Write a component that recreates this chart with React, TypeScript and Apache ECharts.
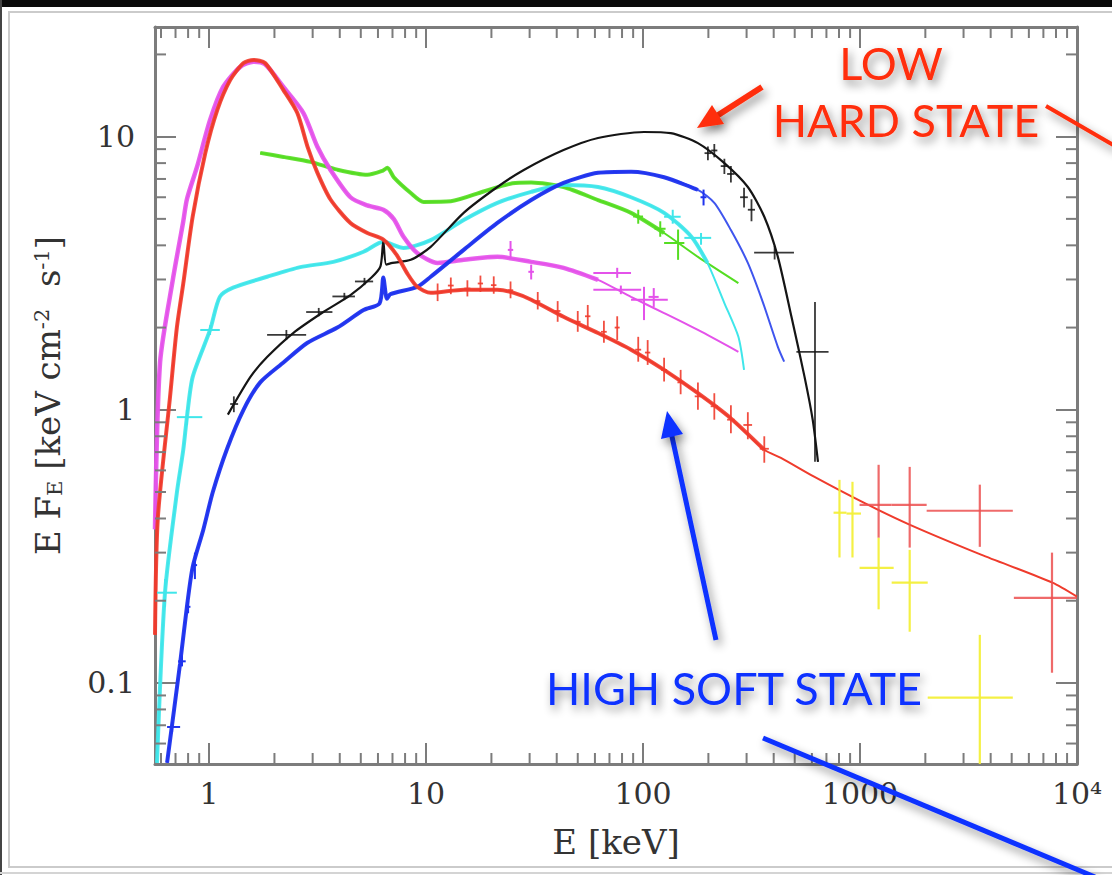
import React, { useEffect, useRef } from 'react';
import * as echarts from 'echarts';

// ---- axis ranges and ticks ----
const X_MIN = 0.563;
const X_MAX = 10000;
const Y_MIN = 0.0505;
const Y_MAX = 25.2;
const X_TICKS = [1, 10, 100, 1000, 10000];
const X_TICK_LABELS = ['1', '10', '100', '1000', '10⁴'];
const Y_TICKS = [0.1, 1, 10];
const Y_TICK_LABELS = ['0.1', '1', '10'];
const X_MINOR_TICKS = [0.6, 0.7, 0.8, 0.9, 2, 3, 4, 5, 6, 7, 8, 9, 20, 30, 40, 50, 60, 70, 80, 90,
  200, 300, 400, 500, 600, 700, 800, 900, 2000, 3000, 4000, 5000, 6000, 7000, 8000, 9000];
const Y_MINOR_TICKS = [0.06, 0.07, 0.08, 0.09, 0.2, 0.3, 0.4, 0.5, 0.6, 0.7, 0.8, 0.9,
  2, 3, 4, 5, 6, 7, 8, 9, 20];

// ---- model curves [E keV, E F_E] ----
const RED_MODEL = [[0.563, 0.15], [0.58, 0.4], [0.66, 1.11], [0.71, 2.0], [0.76, 2.9], [0.84, 5.1],
  [0.96, 8.7], [1.09, 12.5], [1.25, 16.1], [1.44, 18.6], [1.6, 19.1], [1.81, 18.6], [2.2, 14.8], [2.55, 12.2],
  [2.84, 9.2], [3.15, 7.4], [3.62, 5.9], [4.48, 4.83], [5.36, 4.44], [6.35, 4.2], [7.3, 3.7], [8.2, 3.15],
  [9.1, 2.82], [10.5, 2.68], [14.9, 2.75], [21.3, 2.75], [25.4, 2.68], [30.5, 2.53], [43, 2.19], [62, 1.91],
  [88, 1.66], [125, 1.4], [179, 1.15], [254, 0.93], [362, 0.714], [432, 0.667], [614, 0.569], [1040, 0.457],
  [1690, 0.38], [3610, 0.295], [7700, 0.233], [10000, 0.207]];
const MAGENTA_MODEL = [[0.563, 0.365], [0.594, 1.49], [0.68, 2.99], [0.76, 4.9], [0.79, 5.9], [0.88, 7.76],
  [1.01, 11.5], [1.16, 15.2], [1.39, 18.0], [1.6, 18.8], [1.81, 18.4], [2.2, 15.2], [2.72, 12.2], [3.15, 9.2],
  [3.62, 7.57], [4.48, 6.0], [5.36, 5.6], [6.35, 5.4], [7.1, 4.99], [7.87, 4.3], [9.1, 3.75], [11.3, 3.45],
  [14.9, 3.54], [21.3, 3.63], [30.5, 3.48], [43, 3.31], [62, 2.99], [88, 2.59], [125, 2.26], [179, 1.96],
  [275, 1.63]];
const GREEN_MODEL = [[1.72, 8.72], [2.2, 8.43], [2.93, 8.085], [3.9, 7.57], [5.36, 7.25], [6.3, 7.5], [6.63, 7.69],
  [7.1, 7.1], [8.5, 6.22], [9.74, 5.77], [13, 5.8], [18.4, 6.3], [25, 6.75], [30.5, 6.8], [43, 6.54], [62, 5.86],
  [88, 5.26], [125, 4.44], [179, 3.63], [275, 2.91]];
const CYAN_MODEL = [[0.575, 0.051], [0.626, 0.214], [0.71, 0.497], [0.76, 0.714], [0.79, 0.94], [0.84, 1.32],
  [1.01, 1.96], [1.12, 2.59], [1.29, 2.8], [1.85, 3.07], [2.63, 3.33], [3.74, 3.48], [5.15, 3.79], [6.35, 4.12],
  [7.87, 3.91], [10.5, 4.18], [14.9, 4.95], [21.3, 5.72], [30.5, 6.28], [43, 6.65], [62, 6.54], [88, 6.0],
  [125, 5.26], [167, 4.3], [198, 3.45], [237, 2.46], [275, 1.85], [292, 1.4]];
const BLUE_MODEL = [[0.64, 0.051], [0.735, 0.118], [0.79, 0.19], [0.84, 0.266], [0.94, 0.364], [1.04, 0.5],
  [1.21, 0.72], [1.44, 1.0], [1.72, 1.26], [2.2, 1.49], [2.84, 1.76], [3.9, 2.0], [5.15, 2.32], [6.1, 2.45],
  [6.35, 3.05], [6.6, 2.55], [6.85, 2.65], [9.1, 2.82], [10.5, 3.07], [14.9, 3.85], [21.3, 4.83], [30.5, 5.86],
  [43, 6.77], [62, 7.37], [88, 7.44], [125, 7.1], [179, 6.38], [213, 5.72], [254, 4.55], [304, 3.45],
  [355, 2.5], [418, 1.7], [447, 1.5]];
const BLACK_MODEL = [[1.22, 0.96], [1.55, 1.32], [1.85, 1.56], [2.44, 1.91], [3.36, 2.28], [4.48, 2.63],
  [5.6, 3.05], [6.16, 3.35], [6.35, 4.15], [6.55, 3.4], [7.0, 3.45], [8.5, 3.54], [10.5, 3.95], [14.9, 5.26],
  [21.3, 6.54], [28.2, 7.55], [43, 8.93], [62, 9.89], [101, 10.4], [134, 10.3], [179, 9.47], [237, 8.0],
  [304, 6.54], [362, 5.09], [418, 3.63], [483, 2.19], [555, 1.32], [605, 0.92], [640, 0.645]];

// ---- data points with error bars [E, F, Elo, Ehi, Flo, Fhi] ----
const RED_POINTS = [[11.3, 2.68, 11.0, 11.6, 2.5, 2.9], [13, 2.85, 12.6, 13.4, 2.65, 3.05],
  [15.5, 2.78, 15.0, 16.0, 2.6, 2.98], [17.8, 2.9, 17.3, 18.3, 2.7, 3.1], [20.5, 2.86, 19.9, 21.1, 2.66, 3.08],
  [24.5, 2.74, 23.8, 25.2, 2.56, 2.95], [32.7, 2.5, 31.8, 33.6, 2.33, 2.7], [40.4, 2.3, 39.2, 41.6, 2.1, 2.5],
  [50, 2.1, 48.5, 51.5, 1.93, 2.3], [55.6, 2.2, 54, 57.2, 2.0, 2.42], [66, 1.93, 64, 68, 1.76, 2.12],
  [76, 2.0, 74, 78, 1.8, 2.2], [95, 1.66, 92, 98, 1.5, 1.85], [105, 1.62, 102, 108, 1.46, 1.8],
  [125, 1.4, 121, 129, 1.27, 1.55], [149, 1.26, 144, 154, 1.14, 1.4], [179, 1.12, 173, 185, 1.0, 1.26],
  [213, 1.03, 205, 221, 0.92, 1.15], [254, 0.92, 244, 264, 0.82, 1.04], [304, 0.88, 290, 318, 0.78, 0.98],
  [362, 0.72, 345, 380, 0.64, 0.8]];
const RED_HIGH_POINTS = [[1218, 0.449, 995, 1399, 0.34, 0.629], [1694, 0.449, 1399, 2028, 0.313, 0.618],
  [3565, 0.427, 2028, 5060, 0.315, 0.532], [7670, 0.205, 5117, 10000, 0.109, 0.3]];
const YELLOW_POINTS = [[804, 0.42, 755, 866, 0.288, 0.554], [923, 0.417, 866, 1010, 0.288, 0.545],
  [1218, 0.264, 995, 1429, 0.186, 0.34], [1694, 0.233, 1399, 2051, 0.154, 0.307],
  [3565, 0.0883, 2051, 5060, 0.0505, 0.15]];
const BLACK_POINTS = [[1.3, 1.05, 1.25, 1.36, 0.98, 1.12], [2.27, 1.88, 1.85, 2.8, 1.8, 1.96],
  [3.2, 2.28, 2.8, 3.7, 2.2, 2.36], [4.2, 2.6, 3.7, 4.7, 2.52, 2.68], [5.2, 2.95, 4.7, 5.7, 2.86, 3.04],
  [199, 8.7, 192, 206, 8.2, 9.2], [213, 8.9, 206, 220, 8.4, 9.4], [237, 7.8, 228, 246, 7.3, 8.3],
  [254, 7.3, 244, 264, 6.8, 7.8], [292, 6.0, 280, 304, 5.5, 6.5], [316, 5.4, 304, 328, 4.9, 5.9],
  [404, 3.76, 325, 496, 3.55, 3.98], [620, 1.63, 509, 716, 0.645, 2.48]];
const CYAN_POINTS = [[0.626, 0.214, 0.575, 0.71, 0.19, 0.24], [0.79, 0.94, 0.71, 0.93, 0.88, 1.0],
  [1.01, 1.96, 0.91, 1.12, 1.88, 2.04], [137, 5.09, 125, 149, 4.8, 5.4], [185, 4.26, 155, 206, 4.02, 4.44]];
const GREEN_POINTS = [[95, 5.1, 90, 100, 4.8, 5.4], [120, 4.6, 113, 127, 4.3, 4.9],
  [145, 4.08, 125, 155, 3.54, 4.57]];
const MAGENTA_POINTS = [[24.5, 3.85, 23.8, 25.2, 3.6, 4.15], [30.5, 3.2, 29.6, 31.4, 3.0, 3.4],
  [76, 3.17, 59, 88, 3.04, 3.31], [79, 2.75, 59, 98, 2.65, 2.85], [101, 2.53, 88, 130, 2.13, 2.82],
  [112, 2.59, 106, 118, 2.38, 2.79]];
const BLUE_POINTS = [[0.675, 0.069, 0.64, 0.735, 0.066, 0.072], [0.75, 0.12, 0.72, 0.78, 0.115, 0.126],
  [0.8, 0.19, 0.78, 0.82, 0.18, 0.2], [0.86, 0.27, 0.84, 0.88, 0.24, 0.3], [190, 6.0, 184, 196, 5.6, 6.4]];

// upper energy of the dense data band drawn over each model
const RED_DATA_MAX = 420;
const MAGENTA_DATA_MAX = 85;
const GREEN_DATA_MAX = 150;
const CYAN_DATA_MAX = 200;
const BLUE_DATA_MAX = 200;

const RED = '#ef3b2c';
const MAGENTA = '#e452ea';
const GREEN = '#55dd22';
const CYAN = '#3fe6ea';
const BLUE = '#1f33ee';
const BLACK = '#151515';
const YELLOW = '#f3ef3a';
const AXIS_GRAY = '#7c7c7c';
const SERIF = 'DejaVu Serif';

function fmt(ticks: number[], labels: string[]) {
  return (v: number) => {
    for (let i = 0; i < ticks.length; i++) {
      if (Math.abs(Math.log10(v) - Math.log10(ticks[i])) < 1e-4) return labels[i];
    }
    return '';
  };
}

function crossSeries(points: number[][], color: string, width: number, opacity = 1) {
  return {
    type: 'custom',
    coordinateSystem: 'cartesian2d',
    silent: true,
    clip: true,
    z: 4,
    data: points,
    encode: { x: 0, y: 1 },
    renderItem: (params: any, api: any) => {
      const E = api.value(0), F = api.value(1);
      const a = api.coord([api.value(2), F]);
      const b = api.coord([api.value(3), F]);
      const c = api.coord([E, api.value(4)]);
      const d = api.coord([E, api.value(5)]);
      const style = { stroke: color, lineWidth: width, opacity };
      return {
        type: 'group',
        children: [
          { type: 'line', shape: { x1: a[0], y1: a[1], x2: b[0], y2: b[1] }, style },
          { type: 'line', shape: { x1: c[0], y1: c[1], x2: d[0], y2: d[1] }, style },
        ],
      };
    },
  };
}

function modelSeries(model: number[][], color: string, width: number, opacity = 1, z = 3) {
  return {
    type: 'line',
    data: model,
    showSymbol: false,
    symbol: 'none',
    smooth: 0.25,
    silent: true,
    z,
    lineStyle: { color, width, opacity },
  };
}

function minorTickSeries(values: number[], axis: 'x' | 'y') {
  return {
    type: 'custom',
    coordinateSystem: 'cartesian2d',
    silent: true,
    z: 10,
    data: values.map((v) => (axis === 'x' ? [v, 1] : [1, v])),
    encode: { x: 0, y: 1 },
    renderItem: (params: any, api: any) => {
      const cs = params.coordSys;
      const p = api.coord([api.value(0), api.value(1)]);
      const style = { stroke: AXIS_GRAY, lineWidth: 2 };
      const L = 11;
      if (axis === 'x') {
        return {
          type: 'group',
          children: [
            { type: 'line', shape: { x1: p[0], y1: cs.y + cs.height, x2: p[0], y2: cs.y + cs.height - L }, style },
            { type: 'line', shape: { x1: p[0], y1: cs.y, x2: p[0], y2: cs.y + L }, style },
          ],
        };
      }
      return {
        type: 'group',
        children: [
          { type: 'line', shape: { x1: cs.x, y1: p[1], x2: cs.x + L, y2: p[1] }, style },
          { type: 'line', shape: { x1: cs.x + cs.width, y1: p[1], x2: cs.x + cs.width - L, y2: p[1] }, style },
        ],
      };
    },
  };
}

const shadow = { shadowBlur: 10, shadowColor: 'rgba(0,0,0,0.45)', shadowOffsetX: 3, shadowOffsetY: 5 };
const textShadow = { textShadowBlur: 10, textShadowColor: 'rgba(0,0,0,0.45)', textShadowOffsetX: 3, textShadowOffsetY: 5 };

export default function App() {
  const ref = useRef<HTMLDivElement>(null);
  useEffect(() => {
    if (!ref.current) return;
    const chart = echarts.init(ref.current, undefined, { renderer: 'svg' });
    const axisCommon = {
      type: 'log',
      logBase: 10,
      splitLine: { show: false },
      axisLine: { show: true, onZero: false, lineStyle: { color: AXIS_GRAY, width: 3 } },
      axisTick: { show: true, inside: true, length: 21, lineStyle: { color: AXIS_GRAY, width: 2 } },
    };
    const band = (m: number[][], max: number) => m.filter((p) => p[0] <= max);
    const option: any = {
      animation: false,
      backgroundColor: '#ffffff',
      grid: { left: 155, top: 27, right: 35, bottom: 111, containLabel: false, outerBoundsMode: 'none' },
      xAxis: [
        {
          ...axisCommon, min: X_MIN, max: X_MAX, position: 'bottom',
          axisLabel: { formatter: fmt(X_TICKS, X_TICK_LABELS), fontFamily: SERIF, fontSize: 30, color: '#333', margin: 14, showMinLabel: false },
          name: 'E [keV]', nameLocation: 'middle', nameGap: 61,
          nameTextStyle: { fontFamily: SERIF, fontSize: 34, color: '#333' },
        },
        { ...axisCommon, min: X_MIN, max: X_MAX, position: 'top', axisLabel: { show: false } },
      ],
      yAxis: [
        {
          ...axisCommon, min: Y_MIN, max: Y_MAX, position: 'left',
          axisLabel: { formatter: fmt(Y_TICKS, Y_TICK_LABELS), fontFamily: SERIF, fontSize: 30, color: '#333', margin: 20, showMinLabel: false, showMaxLabel: false },
          name: '{a|E F}{sub|E}{a| [keV cm}{sup|-2}{a|  s}{sup|-1}{a|]}',
          nameLocation: 'middle', nameGap: 90,
          nameTextStyle: {
            fontFamily: SERIF, fontSize: 34, color: '#333',
            rich: {
              a: { fontFamily: SERIF, fontSize: 34, color: '#333' },
              sub: { fontFamily: SERIF, fontSize: 21, color: '#333', verticalAlign: 'bottom' },
              sup: { fontFamily: SERIF, fontSize: 21, color: '#333', verticalAlign: 'top' },
            },
          },
        },
        { ...axisCommon, min: Y_MIN, max: Y_MAX, position: 'right', axisLabel: { show: false } },
      ],
      series: [
        minorTickSeries(X_MINOR_TICKS, 'x'),
        minorTickSeries(Y_MINOR_TICKS, 'y'),
        // green
        modelSeries(GREEN_MODEL, GREEN, 2),
        modelSeries(band(GREEN_MODEL, GREEN_DATA_MAX), GREEN, 4, 0.9),
        crossSeries(GREEN_POINTS, GREEN, 2),
        // cyan
        modelSeries(CYAN_MODEL, CYAN, 2),
        modelSeries(band(CYAN_MODEL, CYAN_DATA_MAX), CYAN, 4, 0.9),
        crossSeries(CYAN_POINTS, CYAN, 2),
        // magenta
        modelSeries(MAGENTA_MODEL, MAGENTA, 2),
        modelSeries(band(MAGENTA_MODEL, MAGENTA_DATA_MAX), MAGENTA, 4.5, 0.9),
        crossSeries(MAGENTA_POINTS, MAGENTA, 2),
        // blue
        modelSeries(BLUE_MODEL, '#3f55ee', 2),
        modelSeries(band(BLUE_MODEL, BLUE_DATA_MAX), BLUE, 4, 0.95),
        crossSeries(BLUE_POINTS, BLUE, 2),
        // black
        modelSeries(BLACK_MODEL, BLACK, 2.2),
        crossSeries(BLACK_POINTS, BLACK, 1.8, 0.85),
        // red
        modelSeries(RED_MODEL, RED, 2),
        modelSeries(band(RED_MODEL, RED_DATA_MAX), RED, 4, 0.9),
        crossSeries(RED_POINTS, RED, 1.8, 0.9),
        crossSeries(RED_HIGH_POINTS, '#ec5050', 2.2, 0.85),
        // yellow
        crossSeries(YELLOW_POINTS, YELLOW, 2.2, 0.95),
      ],
      graphic: [
        { type: 'rect', z: 50, shape: { x: 0, y: 0, width: 1112, height: 7 }, style: { fill: '#0a0a0a' } },
        { type: 'rect', z: 50, shape: { x: 0, y: 0, width: 2, height: 875 }, style: { fill: '#444' } },
        { type: 'rect', z: 50, shape: { x: 9, y: 12, width: 1112, height: 855 }, style: { fill: 'none', stroke: '#cbcbcb', lineWidth: 2 } },
        { type: 'line', z: 50, shape: { x1: 0, y1: 873, x2: 1112, y2: 873 }, style: { stroke: '#d4d4d4', lineWidth: 2 } },
        // LOW HARD STATE
        { type: 'text', z: 100, style: { text: 'LOW', x: 891, y: 63, align: 'center', verticalAlign: 'middle', fill: '#ff2d0a', font: '45px Lato', ...textShadow } },
        { type: 'text', z: 100, style: { text: 'HARD STATE', x: 906, y: 120, align: 'center', verticalAlign: 'middle', fill: '#ff2d0a', font: '45px Lato', ...textShadow } },
        { type: 'line', z: 100, shape: { x1: 762, y1: 87, x2: 712, y2: 119 }, style: { stroke: '#ff2d0a', lineWidth: 6, ...shadow } },
        { type: 'polygon', z: 100, shape: { points: [[697, 128], [712, 105], [724, 124]] }, style: { fill: '#ff2d0a', ...shadow } },
        { type: 'line', z: 100, shape: { x1: 1046, y1: 106, x2: 1115, y2: 146 }, style: { stroke: '#ff2d0a', lineWidth: 4, ...shadow } },
        // HIGH SOFT STATE
        { type: 'text', z: 100, style: { text: 'HIGH SOFT STATE', x: 734, y: 688, align: 'center', verticalAlign: 'middle', fill: '#1030ff', font: '45px Lato', ...textShadow } },
        { type: 'line', z: 100, shape: { x1: 716, y1: 640, x2: 671, y2: 432 }, style: { stroke: '#1030ff', lineWidth: 5, ...shadow } },
        { type: 'polygon', z: 100, shape: { points: [[667, 411], [661, 439], [683, 434]] }, style: { fill: '#1030ff', ...shadow } },
        { type: 'line', z: 100, shape: { x1: 763, y1: 738, x2: 1095, y2: 877 }, style: { stroke: '#1030ff', lineWidth: 5, ...shadow } },
      ],
    };
    chart.setOption(option);
    return () => chart.dispose();
  }, []);
  return <div ref={ref} style={{ position: 'absolute', left: 0, top: 0, width: 1112, height: 875 }} />;
}
